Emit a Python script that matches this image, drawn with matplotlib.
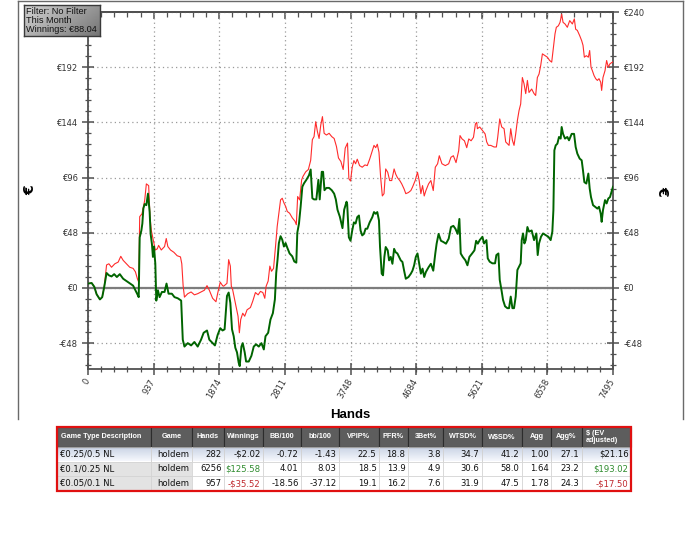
import numpy as np
import matplotlib
matplotlib.use("Agg")
import matplotlib.pyplot as plt
from matplotlib.patches import Rectangle
from matplotlib.ticker import FixedLocator, AutoMinorLocator, FuncFormatter

W, H = 700, 560

# ---- graph data ----
x_tick_labels = [0, 937, 1874, 2811, 3748, 4684, 5621, 6558, 7495]
y_ticks = [-48, 0, 48, 96, 144, 192, 240]

# actual winnings (green)
green_hands = [
    0, 52, 90, 123, 170, 203, 232, 265, 298, 336, 374, 412, 454, 502, 549, 596,
    644, 677, 705, 724, 738, 762, 776, 790, 809, 833, 856, 880, 894, 913, 927, 942,
    961, 975, 998, 1022, 1055, 1093, 1121, 1150, 1197, 1235, 1282, 1330, 1353, 1377,
    1424, 1472, 1519, 1566, 1614, 1651, 1699, 1732, 1779, 1812, 1850, 1888, 1921,
    1950, 1984, 2008, 2032, 2056, 2080, 2103, 2127, 2151, 2166, 2190, 2209, 2237,
    2257, 2295, 2333, 2366, 2400, 2438, 2476, 2510, 2534, 2572, 2605, 2639, 2668,
    2687, 2706, 2725, 2749, 2773, 2797, 2821, 2845, 2878, 2916, 2945, 2974, 2988,
    3012, 3036, 3060, 3084, 3117, 3155, 3179, 3203, 3227, 3260, 3289, 3308, 3337,
    3356, 3376, 3404, 3442, 3480, 3514, 3538, 3562, 3595, 3633, 3657, 3691, 3700,
    3724, 3748, 3772, 3796, 3820, 3844, 3868, 3891, 3915, 3939, 3963, 3987, 4021,
    4059, 4083, 4107, 4130, 4154, 4169, 4193, 4212, 4231, 4250, 4279, 4298, 4322,
    4346, 4370, 4393, 4417, 4441, 4465, 4489, 4513, 4537, 4575, 4609, 4632, 4656,
    4680, 4704, 4728, 4752, 4776, 4800, 4824, 4862, 4895, 4929, 4958, 4977, 5005,
    5039, 5072, 5111, 5149, 5182, 5216, 5245, 5278, 5302, 5321, 5350, 5388, 5417,
    5445, 5484, 5517, 5541, 5565, 5592, 5631, 5654, 5688, 5707, 5735, 5773, 5811,
    5830, 5859, 5878, 5906, 5925, 5954, 5987, 6011, 6035, 6059, 6082, 6106, 6130,
    6154, 6177, 6192, 6211, 6230, 6249, 6273, 6296, 6334, 6368, 6401, 6420, 6439,
    6467, 6496, 6534, 6572, 6605, 6629, 6644, 6658, 6677, 6701, 6724, 6748, 6762,
    6782, 6810, 6843, 6867, 6905, 6939, 6962, 6986, 7019, 7048, 7067, 7086, 7114,
    7143, 7162, 7181, 7210, 7238, 7272, 7295, 7319, 7333, 7352, 7381, 7404, 7428,
    7452, 7495,
]
green_euro = [
    3.8, 4.3, 1, -5.5, -10, -8, 1, 13, 11, 10, 12, 9.5, 12, 8, 6, 4,
    2, -2, -5.5, -8, 44, 50, 56, 69, 73, 72, 82, 66, 47, 38, 27, 36,
    21, -11, -2, -8, -3.5, -3.5, 3.8, -5, -5, -8, -9, -11, -45, -51,
    -48, -50, -47, -51, -45, -39, -37, -45, -48, -50, -41, -35, -37,
    -36, -7, -4, -13, -36, -42, -52, -56, -65, -68, -51, -48, -56,
    -64, -64, -59, -51, -49, -51, -48, -53.5, -42, -39, -27.5, -22, -10,
    13, 24.6, 39, 45, 42, 36, 39, 35, 30, 27.5, 23, 22, 48,
    56, 71, 88, 91, 94, 98, 103, 78, 77, 77, 94, 77, 101,
    101, 85, 87, 87, 85, 82, 77, 68, 62, 52, 68, 75, 73,
    44, 41, 50, 57, 56, 61.6, 63, 50, 45.7, 47, 51.5, 51.5, 57,
    61.6, 66, 64.5, 66, 58.7, 35.6, 12.4, 11, 27, 35.6, 32.7, 24, 27,
    21, 34, 31, 30, 27, 24, 22.6, 15, 8, 9.5, 12.4, 15, 19.7,
    27, 30, 21, 12.4, 16.8, 9.5, 13.9, 18, 21, 15, 30, 38.5, 47,
    41, 40, 38.5, 42.8, 53, 54, 51.5, 47, 60, 30, 27, 24, 19.7,
    27, 30, 32.7, 41, 38.5, 41.6, 44.5, 38.7, 41.6, 25.7, 22.8, 21.4, 21.4,
    28.6, 30, 7, -3, -10.4, -16, -17.6, -17.6, -7.5, -17.6, -17.6, -7.5, 15.6,
    18.5, 21.4, 41.6, 47.4, 38.7, 41.6, 53, 49, 50, 41.6, 47.4, 28.6, 38.7,
    44.5, 47.4, 46, 44.5, 41.6, 49, 67.7, 119.7, 124, 125.5, 131.3, 129.9, 140,
    134, 129.9, 131.3, 128.4, 134, 134, 122.6, 116.8, 112.5, 111, 102, 92, 90.8,
    99.5, 86.5, 79, 72, 70.6, 69, 70.6, 64.8, 57.5, 67.7, 76.4, 73.5, 77.8,
    79, 88.04,
]

# all-in EV adjusted (red)
red_hands = [
    0, 52, 90, 123, 170, 203, 232, 265, 298, 336, 383, 431, 468, 502, 549, 596,
    644, 677, 705, 724, 738, 771, 809, 833, 866, 885, 904, 927, 961, 989, 1008,
    1046, 1093, 1117, 1140, 1178, 1226, 1273, 1320, 1339, 1358, 1377, 1424, 1472,
    1519, 1566, 1614, 1661, 1699, 1732, 1779, 1827, 1850, 1888, 1921, 1936, 1984,
    2008, 2032, 2046, 2065, 2094, 2113, 2142, 2161, 2180, 2209, 2237, 2271, 2319,
    2352, 2390, 2429, 2462, 2496, 2524, 2543, 2572, 2596, 2620, 2649, 2677, 2701,
    2725, 2749, 2773, 2797, 2821, 2845, 2878, 2916, 2955, 2974, 2993, 3021, 3050,
    3069, 3108, 3146, 3179, 3203, 3227, 3251, 3275, 3299, 3323, 3347, 3371, 3404,
    3442, 3480, 3514, 3547, 3576, 3610, 3643, 3672, 3705, 3724, 3748, 3772, 3796,
    3820, 3844, 3877, 3915, 3954, 3987, 4021, 4059, 4083, 4107, 4130, 4154, 4178,
    4202, 4226, 4250, 4279, 4307, 4336, 4370, 4393, 4417, 4451, 4479, 4513, 4537,
    4575, 4609, 4632, 4671, 4704, 4728, 4752, 4776, 4800, 4824, 4862, 4895, 4929,
    4958, 4991, 5015, 5053, 5101, 5149, 5182, 5216, 5254, 5292, 5311, 5340, 5374,
    5407, 5436, 5469, 5503, 5531, 5550, 5559, 5592, 5631, 5669, 5692, 5716, 5749,
    5797, 5830, 5849, 5878, 5906, 5940, 5963, 5987, 6011, 6035, 6059, 6082, 6106,
    6130, 6154, 6177, 6201, 6225, 6249, 6273, 6296, 6334, 6368, 6391, 6415, 6439,
    6463, 6487, 6525, 6558, 6591, 6620, 6644, 6667, 6686, 6715, 6739, 6762, 6782,
    6810, 6843, 6877, 6915, 6943, 6962, 6986, 7019, 7048, 7067, 7086, 7114, 7143,
    7162, 7181, 7200, 7224, 7248, 7272, 7295, 7319, 7333, 7352, 7381, 7404, 7428,
    7452, 7495,
]
red_euro = [
    3.8, 4.3, 1, -5.5, -10, -8, 1, 20, 21, 18, 21, 22.5, 27.5, 24, 21, 18,
    17, 14, 8, 5, 62, 64.5, 76, 90.5, 89, 62, 50, 43, 33, 34, 37,
    33, 36, 43, 36, 33, 31, 28, 27, 21, 2, -8, -5, -3.5,
    -6, -5, -3.5, -2, 2, -2, -9, -12, -5, 5, 2, 1.5, 4,
    24.6, 19, 1.5, -1.5, -10, -16, -24.6, -39, -27.5, -22, -24.6, -19, -17,
    -11.5, -4, -6, -3, -4, -9, 1.5, 6, 19, 14.5, 17, 36, 53.5,
    65, 76.6, 78, 74, 71, 66.5, 65, 61, 58, 55, 79.5, 76.6, 94,
    97, 101, 103, 111, 129, 131.6, 144.6, 136, 130, 141.7, 149, 134.5, 133,
    134.5, 131.6, 130, 123, 113, 110, 103, 121.6, 126, 95, 93, 105, 110.8,
    108, 112, 106.4, 105, 107, 106.4, 112, 119.4, 124, 122, 125, 118, 96,
    80, 82, 103.5, 100.6, 93.4, 93.4, 103.5, 99, 96, 93.4, 90.5, 86, 82,
    83, 84.7, 87.6, 93.4, 100.6, 93.4, 82, 89, 80, 84.7, 90.5, 93.4, 84.7,
    105, 108, 115, 108, 106.4, 108, 113.7, 115, 109, 119.4, 132.5, 129.6, 128,
    122, 129.6, 128, 131, 142.6, 144, 138.5, 140, 137, 134, 127, 124, 124,
    122.6, 122.6, 131, 147, 140, 138.5, 127, 125.5, 124, 138.5, 128.4, 124, 134,
    145.7, 154.4, 160, 183, 177.6, 169, 180.5, 170, 173, 169, 167.4, 183, 186,
    193.5, 203.6, 202, 200.7, 197.8, 196.4, 209.4, 221, 226.7, 228, 231, 238, 231,
    229.6, 226.7, 232.5, 229.6, 234, 225, 224, 219.5, 215, 211, 200.7, 202, 200.7,
    206.5, 192, 189, 184.8, 182, 180.5, 182, 179, 171.8, 183, 189, 197.8, 192,
    195, 196.68,
]

filter_lines = ["Filter: No Filter", "This Month", "Winnings: \u20ac88.04"]

# ---- stats table ----
col_names = ["Game Type Description", "Game", "Hands", "Winnings", "BB/100", "bb/100",
             "VPIP%", "PFR%", "3Bet%", "WTSD%", "W$SD%", "Agg", "Agg%", "$ (EV\nadjusted)"]
limits = ["\u20ac0.25/0.5 NL", "\u20ac0.1/0.25 NL", "\u20ac0.05/0.1 NL"]
games = ["holdem", "holdem", "holdem"]
hands = [282, 6256, 957]
winnings = [-2.02, 125.58, -35.52]
bb100_big = [-0.72, 4.01, -18.56]
bb100_small = [-1.43, 8.03, -37.12]
vpip = [22.5, 18.5, 19.1]
pfr = [18.8, 13.9, 16.2]
three_bet = [3.8, 4.9, 7.6]
wtsd = [34.7, 30.6, 31.9]
wsd = [41.2, 58.0, 47.5]
agg = [1.00, 1.64, 1.78]
agg_pct = [27.1, 23.2, 24.3]
ev_adjusted = [21.16, 193.02, -17.50]


def money(v):
    return f"-${abs(v):.2f}" if v < 0 else f"${v:.2f}"


def euro(v, pos=None):
    v = int(round(v))
    return f"-\u20ac{abs(v)}" if v < 0 else f"\u20ac{v}"


plt.rcParams['font.family'] = ['DejaVu Sans']

fig = plt.figure(figsize=(W / 100, H / 100), dpi=100)
fig.patch.set_facecolor('white')


def px_axes(x0, y0, x1, y1, **kw):
    return fig.add_axes([x0 / W, 1 - y1 / H, (x1 - x0) / W, (y1 - y0) / H], **kw)


# background axes in pixel units for frame and table
bg = fig.add_axes([0, 0, 1, 1], zorder=0)
bg.axis('off')

frame_col = '#6a6a6a'
bg.plot([17.5, 17.5], [1, 419], color=frame_col, lw=1)
bg.plot([682.5, 682.5], [1, 419], color=frame_col, lw=1)
bg.plot([17.5, 682.5], [1, 1], color=frame_col, lw=1)

# ---- main graph ----
ax = px_axes(88, 12, 613, 369, zorder=2)
ax.plot(red_hands, red_euro, color='#ff2b2b', lw=0.8, zorder=3)
ax.plot(green_hands, green_euro, color='#006400', lw=1.4, zorder=4)
ax.axhline(0, color='#7d7d7d', lw=1.6, zorder=2)

ax.set_xlim(0, 7495)
ax.set_ylim(-70.5, 240)
ax.xaxis.set_major_locator(FixedLocator(x_tick_labels))
ax.xaxis.set_major_formatter(FuncFormatter(lambda v, p: f"{int(round(v))}"))
ax.xaxis.set_minor_locator(AutoMinorLocator(5))
ax.yaxis.set_major_locator(FixedLocator(y_ticks))
ax.yaxis.set_major_formatter(FuncFormatter(euro))
ax.yaxis.set_minor_locator(AutoMinorLocator(5))

ax.grid(True, which='major', color='#9a9a9a', linestyle=(0, (1, 2.5)), lw=0.9)
ax.set_axisbelow(True)

axis_col = '#505050'
for s in ax.spines.values():
    s.set_color(axis_col)
    s.set_linewidth(1.3)

ax.tick_params(axis='both', which='major', direction='inout', length=9, width=1.1,
               color=axis_col, labelsize=6, labelcolor='#333333')
ax.tick_params(axis='both', which='minor', direction='inout', length=5, width=0.9,
               color=axis_col)
ax.tick_params(axis='y', which='both', left=True, right=True, labelleft=True,
               labelright=True, pad=3)
ax.tick_params(axis='x', which='both', top=False, pad=3)
for lab in ax.get_xticklabels():
    lab.set_rotation(60)
    lab.set_ha('right')
    lab.set_va('center')
    lab.set_rotation_mode('anchor')
# the left top label sits under the filter box in the original
ax.yaxis.get_major_ticks()[-1].label1.set_visible(False)

top = ax.secondary_xaxis('top')
top.xaxis.set_major_locator(FixedLocator(x_tick_labels))
top.xaxis.set_minor_locator(AutoMinorLocator(5))
top.tick_params(which='major', direction='in', length=5, width=1.1, color=axis_col,
                labeltop=False)
top.tick_params(which='minor', direction='in', length=3.5, width=0.9, color=axis_col)
top.spines['top'].set_color(axis_col)
top.spines['top'].set_linewidth(1.3)

ax.set_ylabel('\u20ac', fontsize=10, fontweight='bold', rotation=90)
ax.yaxis.set_label_coords(-0.097, 0.5)
ax.text(1.093, 0.5, '\u20ac', transform=ax.transAxes, rotation=270, fontsize=10,
        fontweight='bold', ha='center', va='center')
ax.set_xlabel('Hands', fontsize=9.5, fontweight='bold', family='Liberation Sans')
ax.xaxis.set_label_coords(0.5, -0.129)
ax.xaxis.label.set_va('center')

# ---- filter box ----
box = px_axes(24, 5, 100, 36, zorder=5)
gx = np.linspace(0, 1, 60)[None, :]
gy = np.linspace(0, 1, 20)[:, None]
shade = 0.83 - 0.25 * gx - 0.12 * gy
box.imshow(np.dstack([shade, shade, shade]), aspect='auto', extent=(0, 1, 0, 1))
box.set_xlim(0, 1)
box.set_ylim(0, 1)
box.set_xticks([])
box.set_yticks([])
for s in box.spines.values():
    s.set_color('#3a3a3a')
    s.set_linewidth(1)
box.text(0.02, 0.5, "\n".join(filter_lines), fontsize=6.6, family='Liberation Sans',
         color='#111111', ha='left', va='center', linespacing=1.05)

# ---- stats table ----
col_edges = [57, 151, 192, 224, 263, 301, 339, 379, 408, 443, 482, 522, 551, 582, 631]
row_edges = [427, 447, 461.5, 476, 491]

row_grad = np.linspace(0, 1, 20)[:, None] * np.ones((1, 10))
r = 0.78 + 0.18 * row_grad
g = 0.82 + 0.15 * row_grad
b = 0.89 + 0.10 * row_grad
bg.imshow(np.dstack([r, g, b]), aspect='auto',
          extent=(col_edges[0], col_edges[-1], row_edges[2], row_edges[1]), zorder=1)

for j in range(len(col_names)):
    x0, x1 = col_edges[j], col_edges[j + 1]
    bg.add_patch(Rectangle((x0, row_edges[0]), x1 - x0, row_edges[1] - row_edges[0],
                           fc='#5d5d5d', ec='#2c2c2c', lw=0.8, zorder=2))
    ha = 'left' if j in (0, len(col_names) - 1) else 'center'
    tx = x0 + 4 if ha == 'left' else (x0 + x1) / 2
    bg.text(tx, (row_edges[0] + row_edges[1]) / 2, col_names[j], color='white',
            fontsize=5.2, fontweight='bold', family='Liberation Sans', ha=ha, va='center',
            linespacing=0.95, zorder=3)

rows = []
for i in range(3):
    rows.append([limits[i], games[i], str(hands[i]), money(winnings[i]),
                 f"{bb100_big[i]:.2f}", f"{bb100_small[i]:.2f}", f"{vpip[i]:.1f}",
                 f"{pfr[i]:.1f}", f"{three_bet[i]:.1f}", f"{wtsd[i]:.1f}",
                 f"{wsd[i]:.1f}", f"{agg[i]:.2f}", f"{agg_pct[i]:.1f}",
                 money(ev_adjusted[i])])

money_cols = (3, len(col_names) - 1)
for i, cells in enumerate(rows):
    y0, y1 = row_edges[i + 1], row_edges[i + 2]
    for j, cell in enumerate(cells):
        x0, x1 = col_edges[j], col_edges[j + 1]
        if i == 0:
            fc = 'none'
        else:
            fc = '#e3e3e3' if j < 2 else 'white'
        bg.add_patch(Rectangle((x0, y0), x1 - x0, y1 - y0, fc=fc, ec='#d2d2d2',
                               lw=0.5, zorder=2))
        color = '#111111'
        if i > 0 and j in money_cols:
            val = winnings[i] if j == 3 else ev_adjusted[i]
            color = '#2e8b2e' if val >= 0 else '#c0282d'
        if j == 0:
            bg.text(x0 + 3, (y0 + y1) / 2, cell, fontsize=6.1, color=color,
                    ha='left', va='center', zorder=3)
        else:
            bg.text(x1 - 2.5, (y0 + y1) / 2, cell, fontsize=6.1, color=color,
                    ha='right', va='center', zorder=3)

bg.add_patch(Rectangle((col_edges[0], row_edges[0]), col_edges[-1] - col_edges[0],
                       row_edges[-1] - row_edges[0], fill=False, ec='#e01010', lw=1.6,
                       zorder=4))

bg.set_xlim(0, W)
bg.set_ylim(H, 0)

fig.savefig('out.png', dpi=100, facecolor='white')
